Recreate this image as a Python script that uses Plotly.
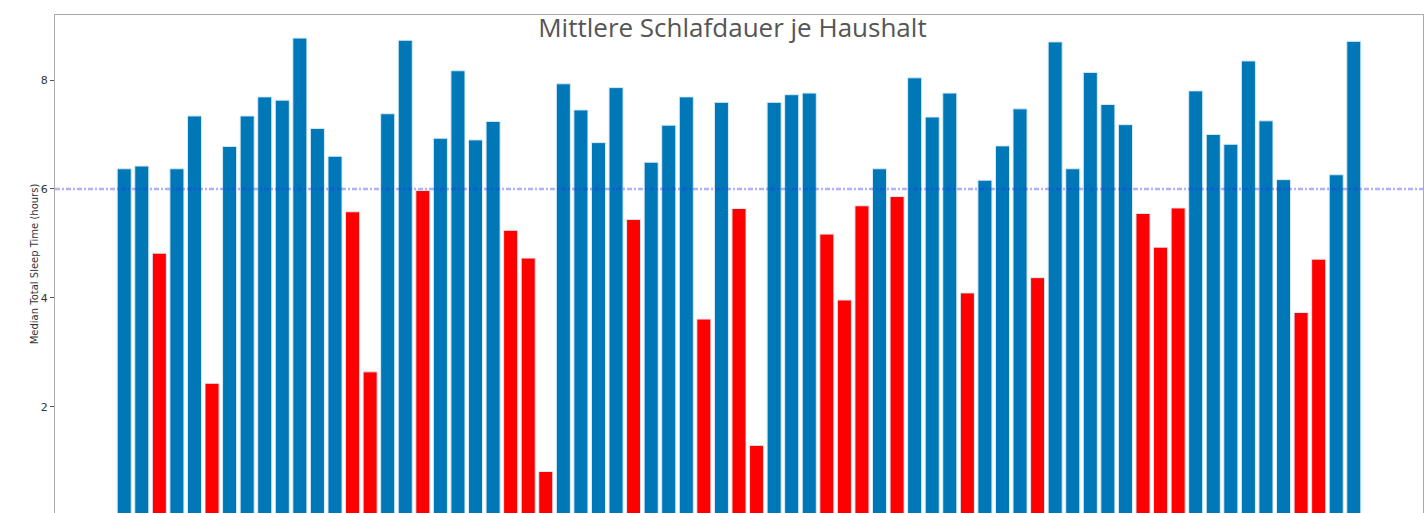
import plotly.graph_objects as go

households = [f"H{i:02d}" for i in range(1, 72)]
median_sleep = [
    6.37, 6.42, 4.82, 6.37, 7.34, 2.43, 6.78, 7.34, 7.69, 7.63,
    8.77, 7.11, 6.60, 5.58, 2.64, 7.38, 8.73, 5.97, 6.93, 8.17,
    6.90, 7.24, 5.24, 4.73, 0.81, 7.93, 7.45, 6.85, 7.86, 5.44,
    6.49, 7.17, 7.69, 3.61, 7.59, 5.64, 1.29, 7.59, 7.73, 7.76,
    5.17, 3.96, 5.69, 6.37, 5.86, 8.04, 7.32, 7.76, 4.09, 6.16,
    6.79, 7.47, 4.37, 8.70, 6.37, 8.14, 7.55, 7.18, 5.55, 4.93,
    5.65, 7.80, 7.00, 6.82, 8.35, 7.25, 6.17, 3.73, 4.71, 6.26,
    8.71,
]
threshold = 6
y_ticks = [0, 2, 4, 6, 8]
title_text = "Mittlere Schlafdauer je Haushalt"
y_title = "Median Total Sleep Time (hours)"

BLUE = "#0077b6"
RED = "#ff0000"
colors = [RED if v < threshold else BLUE for v in median_sleep]

fig = go.Figure()
fig.add_trace(go.Bar(
    x=households,
    y=median_sleep,
    width=0.8,
    marker=dict(color=colors, line=dict(color="#d8ecf6", width=1)),
    showlegend=False,
))

fig.add_shape(
    type="line", xref="paper", x0=0, x1=1, yref="y", y0=threshold, y1=threshold,
    line=dict(color="rgba(50,50,255,0.38)", width=2.5, dash="5px,2px,2px,2px"),
    layer="above",
)

fig.update_layout(
    width=1425,
    height=513,
    margin=dict(l=55, r=2, t=15, b=0),
    paper_bgcolor="white",
    plot_bgcolor="white",
    bargap=0.2,
    title=dict(
        text=title_text,
        x=0.514, xref="container", xanchor="center",
        y=1 - 28 / 513, yref="container", yanchor="middle",
        font=dict(family="Open Sans", size=26, color="#555555"),
    ),
    font=dict(family="DejaVu Sans", color="#222222"),
)

fig.update_xaxes(
    range=[-3.94, 73.94],
    showticklabels=False,
    showgrid=False,
    zeroline=False,
    showline=True, linecolor="#aaaaaa", linewidth=1, mirror=True,
)
fig.update_yaxes(
    range=[(515.6 - 513) / 54.45, (515.6 - 15) / 54.45],
    tickvals=y_ticks,
    ticktext=[str(t) for t in y_ticks],
    ticks="outside", ticklen=4, tickcolor="#555555",
    tickfont=dict(size=11, color="#333333"),
    showgrid=False,
    zeroline=False,
    showline=True, linecolor="#aaaaaa", linewidth=1, mirror=True,
    title=dict(text=y_title, font=dict(size=10, color="#333333"), standoff=0),
)

fig.write_html(
    "out.html",
    config={"displayModeBar": False},
    post_script="document.body.style.margin='0';document.body.style.overflow='hidden';",
)
